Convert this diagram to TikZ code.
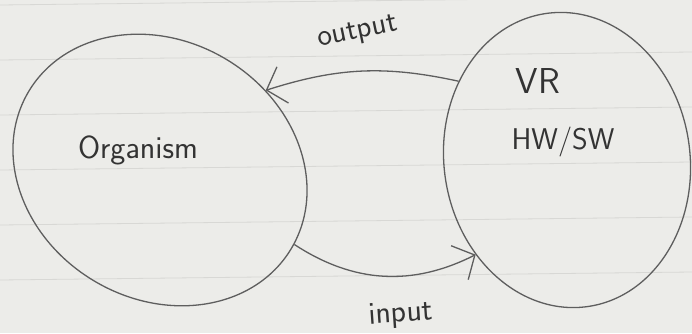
\documentclass[tikz,border=0pt]{standalone}
\usetikzlibrary{shapes.geometric,arrows.meta}
\definecolor{paper}{HTML}{ECECE9}
\definecolor{ruled}{HTML}{D8D8D5}
\definecolor{pencilgray}{HTML}{5E5E5E}
\definecolor{inkgray}{HTML}{333333}
\begin{document}
\begin{tikzpicture}[x=1pt,y=1pt,
  pencil/.style={draw=pencilgray,line width=1.3pt},
  blob/.style={pencil,ellipse,inner sep=0pt},
  flow/.style={pencil,-{Straight Barb[length=17pt,width=38pt]}},
  hand/.style={text=inkgray,inner sep=0pt}]
  % sheet of ruled paper
  \fill[paper] (0,0) rectangle (692,333);
  \useasboundingbox (0,0) rectangle (692,333);
  \foreach \k in {0,...,5}
    \draw[ruled,line width=0.8pt] (0,{328-55*\k}) -- (692,{336-55*\k});

  % the two systems
  \node[blob,minimum width=306pt,minimum height=258pt,rotate=-31] (org) at (160,163) {};
  \node[blob,minimum width=246pt,minimum height=296pt,rotate=8] (vr) at (567,173) {};

  \node[hand,font=\sffamily\fontsize{32}{34}\selectfont] (orgname) at (138,183) {Organism};
  \node[hand,font=\sffamily\fontsize{36}{38}\selectfont] (vrname) at (538,252) {VR};
  \node[hand,font=\sffamily\fontsize{30}{32}\selectfont] (hwsw) at (563,191) {HW/SW};

  % exchanges between them
  \draw[flow] (vr.136) to[bend right=15] (org.68);
  \draw[flow] (org.2) to[bend right=30] (vr.218);

  \node[hand,font=\sffamily\fontsize{31}{33}\selectfont,rotate=12] (outlbl) at (358,300) {output};
  \node[hand,font=\sffamily\fontsize{32}{34}\selectfont,rotate=4] (inlbl) at (401,18) {input};
\end{tikzpicture}
\end{document}
